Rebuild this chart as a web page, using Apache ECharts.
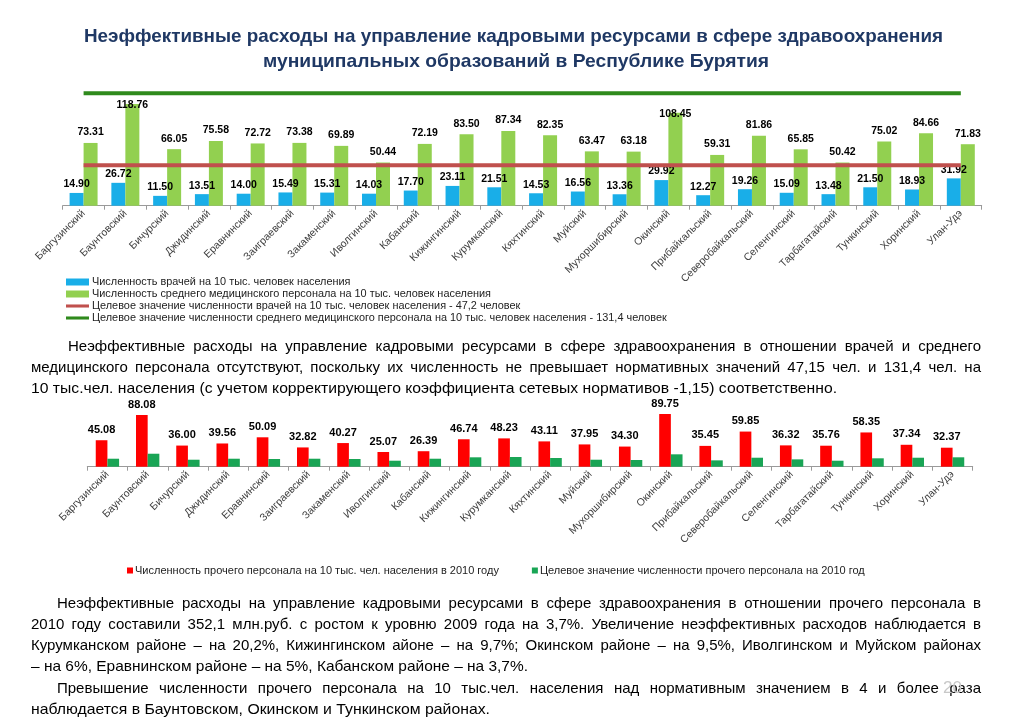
<!DOCTYPE html>
<html><head><meta charset="utf-8">
<script src="https://cdn.jsdelivr.net/npm/echarts@6/dist/echarts.min.js"></script>
<style>
html,body{margin:0;padding:0;background:#fff;overflow:hidden;}
#chart{position:absolute;left:0;top:0;width:1023px;height:723px;}
#texts{position:absolute;left:0;top:0;width:1023px;height:723px;pointer-events:none;}
.ln{position:absolute;white-space:nowrap;font-family:"Liberation Sans",Arial,sans-serif;color:#000;line-height:1.1;}
</style></head><body>
<div id="chart"></div>
<div id="texts"></div>
<script>
// ---------- DATA ----------
const districts = ['Баргузинский','Баунтовский','Бичурский','Джидинский','Еравнинский','Заиграевский','Закаменский','Иволгинский','Кабанский','Кижингинский','Курумканский','Кяхтинский','Муйский','Мухоршибирский','Окинский','Прибайкальский','Северобайкальский','Селенгинский','Тарбагатайский','Тункинский','Хоринский','Улан-Удэ'];
const doctors = [14.90, 26.72, 11.50, 13.51, 14.00, 15.49, 15.31, 14.03, 17.70, 23.11, 21.51, 14.53, 16.56, 13.36, 29.92, 12.27, 19.26, 15.09, 13.48, 21.50, 18.93, 31.92];
const nurses = [73.31, 118.76, 66.05, 75.58, 72.72, 73.38, 69.89, 50.44, 72.19, 83.50, 87.34, 82.35, 63.47, 63.18, 108.45, 59.31, 81.86, 65.85, 50.42, 75.02, 84.66, 71.83];
const doctorsTarget = 47.2;
const nursesTarget = 131.4;
const otherStaff = [45.08, 88.08, 36.00, 39.56, 50.09, 32.82, 40.27, 25.07, 26.39, 46.74, 48.23, 43.11, 37.95, 34.30, 89.75, 35.45, 59.85, 36.32, 35.76, 58.35, 37.34, 32.37];
const otherTarget = [13.6, 22.1, 11.9, 13.6, 13.1, 13.6, 13.1, 10.2, 13.6, 16.0, 16.5, 14.8, 11.9, 11.4, 21.1, 10.8, 15.3, 12.5, 10.2, 14.3, 15.3, 16.0];

const legend1Names = [
  'Численность врачей на 10 тыс. человек населения',
  'Численность среднего медицинского персонала на 10 тыс. человек населения',
  'Целевое значение численности врачей на 10 тыс. человек населения - 47,2 человек',
  'Целевое значение численности среднего медицинского персонала на 10 тыс. человек населения - 131,4 человек'
];
const legend2Names = [
  'Численность прочего персонала на 10 тыс. чел. населения в 2010 году',
  'Целевое значение численности прочего персонала на 2010 год'
];

// ---------- CHART ----------
const FONT = '"Liberation Sans", Arial, sans-serif';
const chart = echarts.init(document.getElementById('chart'), null, {renderer: 'canvas'});
const valLabel = {show: true, position: 'top', distance: 5, fontSize: 10.5, fontWeight: 'bold', color: '#000', fontFamily: FONT, formatter: p => p.value.toFixed(2)};
const xAxisCommon = {
  type: 'category', data: districts,
  axisLine: {lineStyle: {color: '#9a9a9a', width: 1}},
  axisTick: {show: true, length: 4, lineStyle: {color: '#9a9a9a'}},
  axisLabel: {interval: 0, rotate: 45, fontSize: 10.5, color: '#404040', fontFamily: FONT, margin: 6}
};
// tall bars: label sits over the bar top, as in the source
const nursesData = nurses.map(v => v > 100 ? {value: v, label: {distance: -7}} : v);
const lineIcon = 'path://M0,0H30V4H0Z';
chart.setOption({
  animation: false,
  backgroundColor: 'transparent',
  textStyle: {fontFamily: FONT},
  grid: [
    {left: 62.7, right: 41.3, top: 77.3, bottom: 517.3},
    {left: 87.3, right: 50.3, top: 408, bottom: 256.3}
  ],
  xAxis: [
    Object.assign({gridIndex: 0}, xAxisCommon),
    Object.assign({gridIndex: 1}, xAxisCommon)
  ],
  yAxis: [
    {gridIndex: 0, type: 'value', min: 0, max: 150, show: false, splitLine: {show: false}},
    {gridIndex: 1, type: 'value', min: 0, max: 100, show: false, splitLine: {show: false}}
  ],
  legend: [
    {data: [{name: legend1Names[0], icon: 'rect'}, {name: legend1Names[1], icon: 'rect'},
            {name: legend1Names[2], icon: lineIcon}, {name: legend1Names[3], icon: lineIcon}],
     orient: 'vertical', left: 66, top: 276.5, padding: 0, itemWidth: 23, itemHeight: 7, itemGap: 1,
     textStyle: {fontSize: 10.9, color: '#222', fontFamily: FONT, padding: [0, 0, 0, -2]}},
    {data: [{name: legend2Names[0], icon: 'rect'}, {name: legend2Names[1], icon: 'rect'}],
     orient: 'horizontal', left: 127, top: 565, padding: 0, itemWidth: 6, itemHeight: 6, itemGap: 33,
     textStyle: {fontSize: 11, color: '#222', fontFamily: FONT, padding: [0, 0, 0, -3]}}
  ],
  series: [
    {name: legend1Names[0], type: 'bar', xAxisIndex: 0, yAxisIndex: 0, data: doctors,
     itemStyle: {color: '#19AEE8'}, barGap: '0%', barCategoryGap: '33%', label: Object.assign({}, valLabel, {distance: 3})},
    {name: legend1Names[1], type: 'bar', xAxisIndex: 0, yAxisIndex: 0, data: nursesData,
     itemStyle: {color: '#92D050'}, barGap: '0%', barCategoryGap: '33%', label: valLabel},
    {name: legend1Names[2], type: 'line', xAxisIndex: 0, yAxisIndex: 0, data: districts.map(() => doctorsTarget),
     symbol: 'none', lineStyle: {color: '#C0504D', width: 4}, itemStyle: {color: '#C0504D'}},
    {name: legend1Names[3], type: 'line', xAxisIndex: 0, yAxisIndex: 0, data: districts.map(() => nursesTarget),
     symbol: 'none', lineStyle: {color: '#2F8A1C', width: 4}, itemStyle: {color: '#2F8A1C'}},
    {name: legend2Names[0], type: 'bar', xAxisIndex: 1, yAxisIndex: 1, data: otherStaff,
     itemStyle: {color: '#FF0000'}, barGap: '0%', barCategoryGap: '42%', label: Object.assign({}, valLabel, {distance: 5, fontSize: 11})},
    {name: legend2Names[1], type: 'bar', xAxisIndex: 1, yAxisIndex: 1, data: otherTarget,
     itemStyle: {color: '#19A555'}, barGap: '0%', barCategoryGap: '42%'}
  ]
});

// ---------- TEXT ----------
const lines = [
  {t: 'Неэффективные расходы на управление кадровыми ресурсами в сфере здравоохранения', x: 84, w: 859, y: 37, s: 19, b: true, c: '#1F3864'},
  {t: 'муниципальных образований в Республике Бурятия', x: 263, w: 506, y: 62, s: 19, b: true, c: '#1F3864'},
  {t: 'Неэффективные расходы на управление кадровыми ресурсами в сфере здравоохранения в отношении врачей и среднего', x: 68, w: 913, y: 347, s: 15, full: true},
  {t: 'медицинского персонала отсутствуют, поскольку их численность не превышает нормативных значений 47,15 чел. и 131,4 чел. на', x: 31, w: 950, y: 368, s: 15, full: true},
  {t: '10 тыс.чел. населения (с учетом корректирующего коэффициента сетевых нормативов -1,15) соответственно.', x: 31, w: 806, y: 389, s: 15},
  {t: 'Неэффективные расходы на управление кадровыми ресурсами в сфере здравоохранения в отношении прочего персонала в', x: 57, w: 924, y: 604, s: 15, full: true},
  {t: '2010 году составили 352,1 млн.руб. с ростом к уровню 2009 года на 3,7%.  Увеличение неэффективных расходов  наблюдается в', x: 31, w: 950, y: 625, s: 15, full: true},
  {t: 'Курумканском районе – на 20,2%, Кижингинском айоне – на 9,7%; Окинском районе – на 9,5%,  Иволгинском и Муйском районах', x: 31, w: 950, y: 646, s: 15, full: true},
  {t: '–  на 6%, Еравнинском районе – на 5%, Кабанском районе – на 3,7%.', x: 31, w: 497, y: 667, s: 15},
  {t: 'Превышение численности прочего персонала на 10 тыс.чел. населения над нормативным значением в 4 и более раза', x: 57, w: 924, y: 689, s: 15, full: true},
  {t: 'наблюдается в Баунтовском, Окинском и Тункинском районах.', x: 31, w: 459, y: 710, s: 15}
];
const box = document.getElementById('texts');
lines.forEach(L => {
  const d = document.createElement('div');
  d.className = 'ln';
  d.textContent = L.t;
  d.style.fontSize = L.s + 'px';
  d.style.fontWeight = L.b ? 'bold' : 'normal';
  d.style.color = L.c || '#000';
  d.style.left = L.x + 'px';
  d.style.top = (L.y - L.s * 0.58) + 'px';
  box.appendChild(d);
  const nat = d.getBoundingClientRect().width;
  if (L.full && nat <= L.w) {
    d.style.width = L.w + 'px';
    d.style.whiteSpace = 'normal';
    d.style.textAlign = 'justify';
    d.style.textAlignLast = 'justify';
  } else {
    d.style.transformOrigin = '0 50%';
    d.style.transform = 'scaleX(' + (L.w / nat) + ')';
  }
});
const pg = document.createElement('div');
pg.className = 'ln';
pg.textContent = '20';
pg.style.cssText += 'left:943px;top:679px;font-size:17px;color:#c8c8c8;';
box.appendChild(pg);
</script>
</body></html>
